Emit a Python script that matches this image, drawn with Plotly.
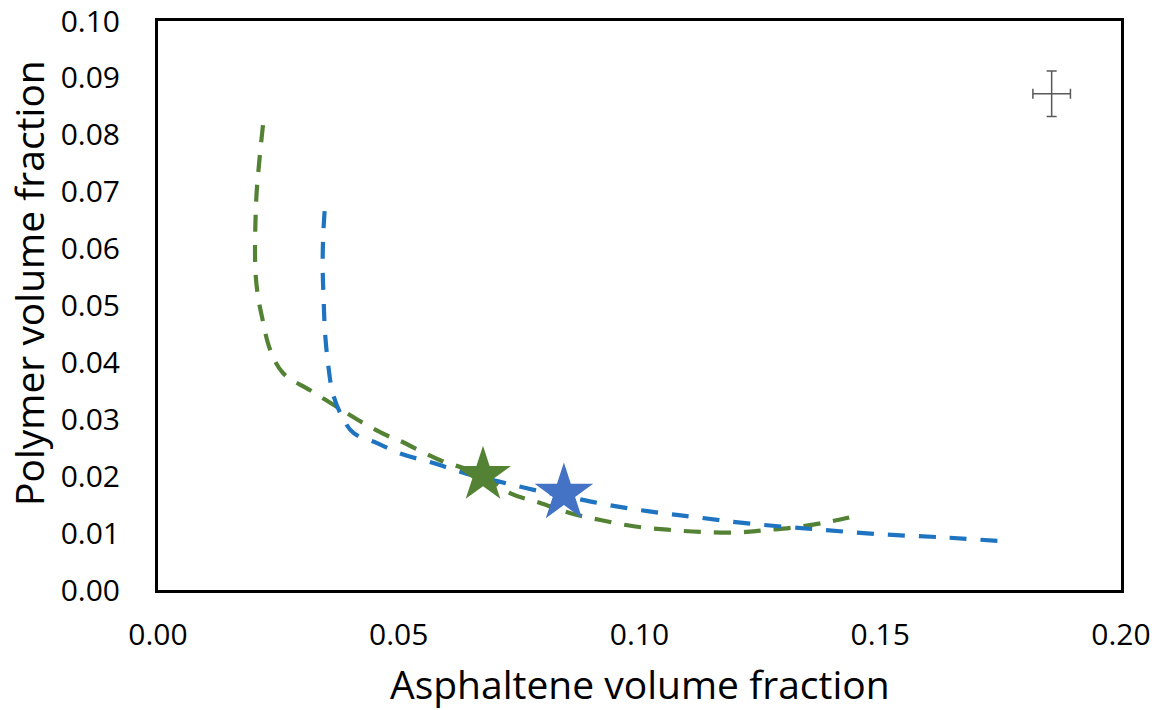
import plotly.graph_objects as go

# Green curve (asphaltene, polymer volume fractions)
green_x = [0.0218, 0.0210, 0.0204, 0.0202, 0.0207, 0.0216, 0.0233, 0.0260, 0.0316, 0.0371,
           0.0427, 0.0482, 0.0503, 0.0586, 0.0675, 0.0732, 0.0794, 0.0857, 0.0919, 0.0988,
           0.1058, 0.1127, 0.1200, 0.1260, 0.1330, 0.1400, 0.1453]
green_y = [0.0817, 0.0750, 0.0686, 0.0568, 0.0520, 0.0480, 0.0422, 0.0381, 0.0351, 0.0322,
           0.0293, 0.0269, 0.0262, 0.0228, 0.0202, 0.0170, 0.0153, 0.0135, 0.0123, 0.0112,
           0.0106, 0.0102, 0.0101, 0.0105, 0.0111, 0.0121, 0.0131]

# Blue curve
blue_x = [0.0346, 0.0343, 0.0342, 0.0344, 0.0347, 0.0354, 0.0363, 0.0382, 0.0406, 0.0455,
          0.0503, 0.0572, 0.0642, 0.0711, 0.0780, 0.0850, 0.0919, 0.0988, 0.1058, 0.1127,
          0.1225, 0.1362, 0.1500, 0.1640, 0.1765]
blue_y = [0.0666, 0.0620, 0.0568, 0.0510, 0.0451, 0.0392, 0.0346, 0.0305, 0.0276, 0.0258,
          0.0240, 0.0223, 0.0204, 0.0190, 0.0176, 0.0164, 0.0152, 0.0142, 0.0134, 0.0127,
          0.0117, 0.0107, 0.0098, 0.0092, 0.0085]

# Star markers
green_star = (0.0675, 0.0202)
blue_star = (0.0843, 0.0170)

# Representative error bar
err_point = (0.1856, 0.0872)
err_x = 0.0039
err_y = 0.0040

x_ticks = [0, 0.05, 0.10, 0.15, 0.20]
y_ticks = [0.00, 0.01, 0.02, 0.03, 0.04, 0.05, 0.06, 0.07, 0.08, 0.09, 0.10]
x_title = "Asphaltene volume fraction"
y_title = "Polymer volume fraction"

GREEN = "#548235"
BLUE = "#1F74C2"
STAR_BLUE = "#4472C4"
GREY = "#595959"

fig = go.Figure()
fig.add_trace(go.Scatter(x=green_x, y=green_y, mode="lines",
                         line=dict(color=GREEN, width=4.2, dash="17px,13px"),
                         line_shape="spline", showlegend=False))
fig.add_trace(go.Scatter(x=blue_x, y=blue_y, mode="lines",
                         line=dict(color=BLUE, width=4.2, dash="17px,14px"),
                         line_shape="spline", showlegend=False))
fig.add_trace(go.Scatter(x=[green_star[0]], y=[green_star[1]], mode="markers",
                         marker=dict(symbol="star", size=42, color=GREEN), showlegend=False))
fig.add_trace(go.Scatter(x=[blue_star[0]], y=[blue_star[1]], mode="markers",
                         marker=dict(symbol="star", size=44, color=STAR_BLUE), showlegend=False))
fig.add_trace(go.Scatter(x=[err_point[0]], y=[err_point[1]], mode="markers",
                         marker=dict(size=0.1, color=GREY),
                         error_x=dict(type="constant", value=err_x, color=GREY, thickness=1.5, width=5),
                         error_y=dict(type="constant", value=err_y, color=GREY, thickness=1.5, width=5),
                         showlegend=False))

font_family = "Open Sans, Liberation Sans, sans-serif"
fig.update_layout(
    width=1160, height=710,
    margin=dict(l=158, r=39, t=21, b=120),
    paper_bgcolor="white", plot_bgcolor="white",
    font=dict(family=font_family, color="#000000"),
    xaxis=dict(range=[0, 0.20], tickvals=x_ticks, tickformat=".2f", automargin=False,
               showgrid=False, zeroline=False, showline=True, linecolor="black", linewidth=3,
               mirror=True, ticks="", tickfont=dict(size=30), ticklabelstandoff=16,
               ticklabeloverflow="allow"),
    yaxis=dict(range=[0, 0.10], tickvals=y_ticks, tickformat=".2f", automargin=False,
               showgrid=False, zeroline=False, showline=True, linecolor="black", linewidth=3,
               mirror=True, ticks="", tickfont=dict(size=30), ticklabelstandoff=29,
               ticklabeloverflow="allow"),
    annotations=[
        dict(text=x_title, xref="paper", yref="paper", x=0.5, y=-0.1652,
             xanchor="center", yanchor="middle", showarrow=False, font=dict(size=39)),
        dict(text=y_title, xref="paper", yref="paper", x=-0.1345, y=0.5404,
             xanchor="center", yanchor="middle", showarrow=False, textangle=-90,
             font=dict(size=39)),
    ],
)

fig.write_html("out.html", config={"displayModeBar": False},
               post_script="document.body.style.margin='0';document.body.style.overflow='hidden';")
